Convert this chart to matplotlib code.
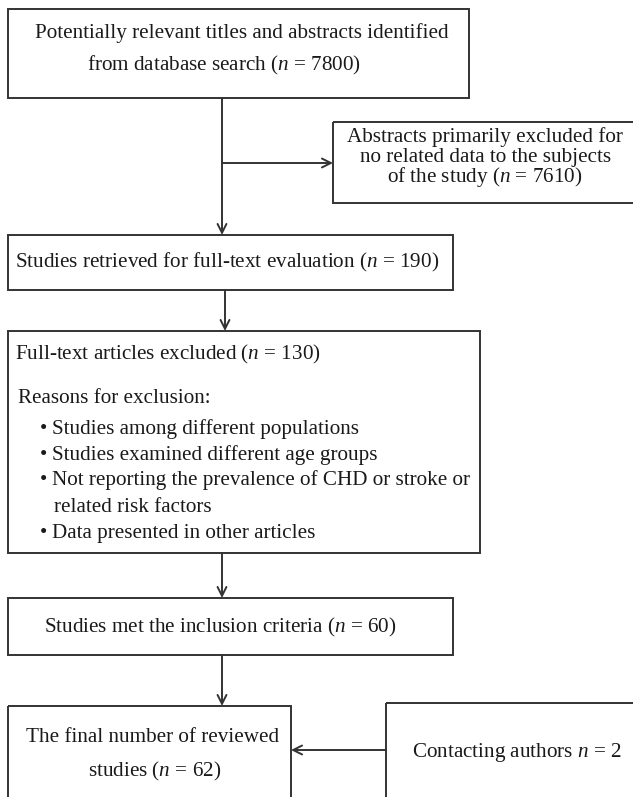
import matplotlib
matplotlib.use("Agg")
import matplotlib.pyplot as plt
from matplotlib.patches import Rectangle

plt.rcParams['font.family'] = ['Liberation Serif', 'DejaVu Serif']
plt.rcParams['mathtext.fontset'] = 'custom'
plt.rcParams['mathtext.rm'] = 'Liberation Serif'
plt.rcParams['mathtext.it'] = 'Liberation Serif:italic'

# ---- data (counts in the flow) ----
n_identified = 7800
n_abstracts_excluded = 7610
n_retrieved = 190
n_fulltext_excluded = 130
n_included = 60
n_contacted = 2
n_final = 62

exclusion_reasons = [
    ["Studies among different populations"],
    ["Studies examined different age groups"],
    ["Not reporting the prevalence of CHD or stroke or", "related risk factors"],
    ["Data presented in other articles"],
]

W, H = 633, 797
fig = plt.figure(figsize=(W / 100, H / 100), dpi=100)
ax = fig.add_axes([0, 0, 1, 1])
ax.set_xlim(0, W)
ax.set_ylim(H, 0)
ax.axis('off')

LC = '#333333'
LW = 1.4
FS = 15.2


def box(x0, y0, x1, y1):
    ax.add_patch(Rectangle((x0, y0), x1 - x0, y1 - y0, fill=False,
                           edgecolor=LC, linewidth=LW, clip_on=True))


def arrow(x0, y0, x1, y1):
    ax.annotate('', xy=(x1, y1), xytext=(x0, y0),
                arrowprops=dict(arrowstyle='->', color=LC, lw=LW,
                                shrinkA=0, shrinkB=0, mutation_scale=16))


def txt(x, y, s, ha='left'):
    ax.text(x, y, s, ha=ha, va='baseline', fontsize=FS, color='#1a1a1a')


nn = r'$n$'

# Box 1
box(8, 9, 469, 98)
txt(242, 38, "Potentially relevant titles and abstracts identified", ha='center')
txt(224, 70, f"from database search ({nn} = {n_identified})", ha='center')

# Right box (excluded abstracts)
box(333, 122, 640, 203)
txt(485, 142, "Abstracts primarily excluded for", ha='center')
txt(486, 162, "no related data to the subjects", ha='center')
txt(485, 182, f"of the study ({nn} = {n_abstracts_excluded})", ha='center')

# Arrows from box 1
ax.plot([222, 222], [98, 163], color=LC, lw=LW)
arrow(222, 163, 333, 163)
arrow(222, 160, 222, 235)

# Box 2
box(8, 235, 453, 290)
txt(15, 267, f"Studies retrieved for full-text evaluation ({nn} = {n_retrieved})")
arrow(225, 290, 225, 331)

# Box 3
box(8, 331, 480, 553)
txt(15, 359, f"Full-text articles excluded ({nn} = {n_fulltext_excluded})")
txt(18, 403, "Reasons for exclusion:")
ys = [434, 460, 485, 538]
extra_y = 512
for reason, y in zip(exclusion_reasons, ys):
    txt(40, y, "\u2022")
    txt(52, y, reason[0])
    if len(reason) > 1:
        txt(54, extra_y, reason[1])
arrow(222, 553, 222, 598)

# Box 4
box(8, 598, 453, 655)
txt(220, 632, f"Studies met the inclusion criteria ({nn} = {n_included})", ha='center')
arrow(222, 655, 222, 706)

# Box 5
box(8, 706, 291, 810)
txt(153, 742, "The final number of reviewed", ha='center')
txt(155, 776, f"studies ({nn} = {n_final})", ha='center')

# Contacting box
box(386, 703, 640, 810)
txt(517, 757, f"Contacting authors {nn} = {n_contacted}", ha='center')
arrow(386, 750, 291, 750)

fig.savefig('out.png', dpi=100)
